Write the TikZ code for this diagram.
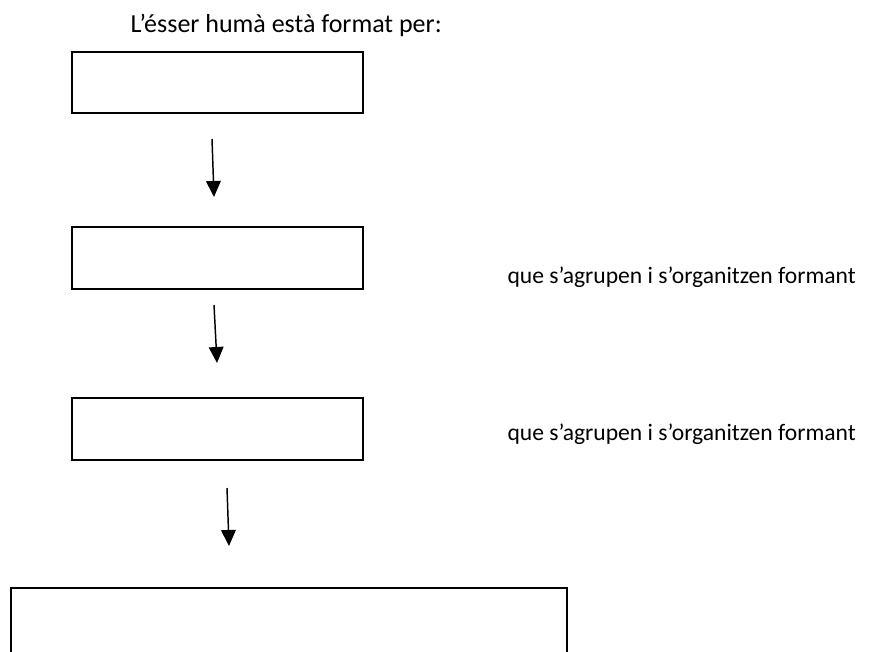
\documentclass[tikz,border=0pt]{standalone}
\usepackage{fontspec}
\setmainfont{Carlito}
\usetikzlibrary{arrows.meta}

\tikzset{every picture/.style={line width=0.75pt}}
\tikzset{
  blankbox/.style={draw, line width=1.5pt, rectangle, inner sep=0pt, anchor=north west},
  downarrow/.style={line width=1.1pt, -{Triangle[length=12pt,width=11pt]}},
  plaintext/.style={anchor=base west, inner sep=0pt, font=\fontsize{17.7}{21}\selectfont},
  titletext/.style={plaintext, font=\fontsize{19.5}{23}\selectfont}
}

\begin{document}
\begin{tikzpicture}[x=0.75pt,y=0.75pt,yscale=-1,xscale=1]
			\useasboundingbox (0,0) rectangle (870,652);
			\clip (0,0) rectangle (870,652);
			% titol
			\node[titletext] (titol) at (130,33) {L’ésser humà està format per:};
			% caixes buides
			\node[blankbox, minimum width=218.25pt, minimum height=45.75pt] (caixa1) at (71,51) {};
			\node[blankbox, minimum width=218.25pt, minimum height=46.5pt] (caixa2) at (71,226) {};
			\node[blankbox, minimum width=218.25pt, minimum height=46.5pt] (caixa3) at (71,397) {};
			\node[blankbox, minimum width=417pt, minimum height=75pt] (caixa4) at (10,587) {};
			% textos de la dreta
			\node[plaintext] (forma1) at (507,283) {que s’agrupen i s’organitzen formant};
			\node[plaintext] (forma2) at (507,440) {que s’agrupen i s’organitzen formant};
			% fletxes
			\coordinate (f1a) at (212,139);
			\coordinate (f1b) at (214,197);
			\coordinate (f2a) at (214,305);
			\coordinate (f2b) at (217,363);
			\coordinate (f3a) at (227,488);
			\coordinate (f3b) at (229,546);
			\draw[downarrow] (f1a) -- (f1b);
			\draw[downarrow] (f2a) -- (f2b);
			\draw[downarrow] (f3a) -- (f3b);
		\end{tikzpicture}
\end{document}
